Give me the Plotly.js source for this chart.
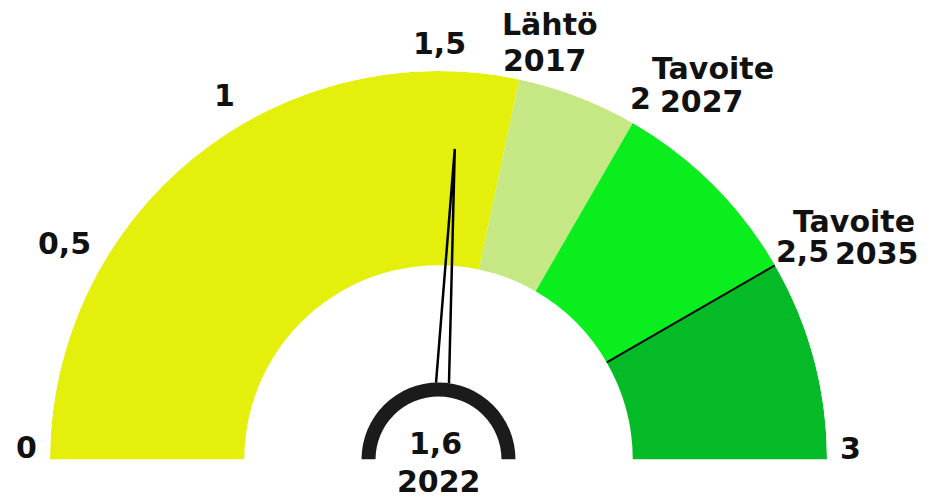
<!DOCTYPE html>
<html><head><meta charset="utf-8">
<script src="https://cdn.plot.ly/plotly-3.0.1.min.js"></script>
<style>html,body{margin:0;padding:0;background:#fff}#chart{width:931px;height:501px}</style>
</head><body><div id="chart"></div>
<script>
// ---- data ----
const gaugeMin = 0, gaugeMax = 3;
const stepStarts = [0, 1.7, 2.0, 2.5];
const stepEnds = [1.7, 2.0, 2.5, 3];
const stepColors = ['#e4ef0c', '#c6e884', '#0aee1e', '#04ba26'];
const tickValues = [0, 0.5, 1, 1.5, 2, 2.5, 3];
const tickLabels = ['0', '0,5', '1', '1,5', '2', '2,5', '3'];
const thresholdValue = 2.5;
const needleValue = 1.55;
const currentValueLabel = '1,6';
const currentYearLabel = '2022';
const markerTitles = ['Lähtö', 'Tavoite', 'Tavoite'];
const markerYears = ['2017', '2027', '2035'];

// ---- geometry / scales ----
const W = 931, H = 501;
const CX = 438.5, CY = 459.5, R = 388.5;       // gauge centre and outer radius (px)
const deg = v => (v - gaugeMin) / (gaugeMax - gaugeMin) * 180;
const rPx = px => 2 * px / R - 1;              // px from centre -> radial units ([-1,1])

const font = {family: 'DejaVu Sans', size: 30, color: '#111', weight: 'bold'};

const traces = [];
traces.push({
  type: 'barpolar',
  r: stepStarts.map(() => 1),
  base: stepStarts.map(() => 0),
  theta: stepStarts.map((s, i) => (deg(s) + deg(stepEnds[i])) / 2),
  width: stepStarts.map((s, i) => deg(stepEnds[i]) - deg(s)),
  marker: {color: stepColors, line: {width: 0}},
  hoverinfo: 'skip'
});
traces.push({
  type: 'scatterpolar', mode: 'lines',
  r: [0, 1], theta: [deg(thresholdValue), deg(thresholdValue)],
  line: {color: '#000', width: 2}, hoverinfo: 'skip'
});
// hub ring
traces.push({
  type: 'barpolar',
  r: [rPx(77) - rPx(63)], base: [rPx(63)],
  theta: [deg((gaugeMin + gaugeMax) / 2)], width: [180],
  marker: {color: '#1b1b1b', line: {width: 0}},
  hoverinfo: 'skip'
});
// needle
const nd = deg(needleValue), half = Math.atan(6.5 / 77) * 180 / Math.PI;
traces.push({
  type: 'scatterpolar', mode: 'lines',
  r: [rPx(77), rPx(311), rPx(77)],
  theta: [nd - half, nd, nd + half],
  line: {color: '#000', width: 2.5}, hoverinfo: 'skip'
});

const px2x = x => x / W, px2y = y => 1 - y / H;
const ann = (text, x, y, xa) => ({text, x: px2x(x), y: px2y(y), xref: 'paper', yref: 'paper',
  xanchor: xa || 'left', yanchor: 'middle', showarrow: false, font});

// tick labels placed around the rim at each tick's angle (with small hand nudges)
const labelRadius = 416;
const labelNudge = [[3.5, -11.5], [-13.5, -8.5], [-6, -3.5], [1, 0], [-6.5, -0.5], [4, -0.5], [-4.5, -11.5]];
const tickAnnotations = tickValues.map((v, i) => {
  const a = Math.PI - deg(v) * Math.PI / 180;
  return ann(tickLabels[i], CX + Math.cos(a) * labelRadius + labelNudge[i][0],
    CY - Math.sin(a) * labelRadius + labelNudge[i][1], 'center');
});

const annotations = tickAnnotations.concat([
  ann(markerTitles[0], 500, 25), ann(markerYears[0], 501, 60),
  ann(markerTitles[1], 650, 68), ann(markerYears[1], 658, 101),
  ann(markerTitles[2], 791, 221), ann(markerYears[2], 833, 254),
  ann(currentValueLabel, 435, 443, 'center'), ann(currentYearLabel, 439, 481, 'center')
]);

const layout = {
  width: W, height: H, margin: {l: 0, r: 0, t: 0, b: 0},
  paper_bgcolor: '#fff', showlegend: false,
  polar: {
    domain: {x: [(CX - R) / W, (CX + R) / W], y: [1 - CY / H, 1 - (CY - R) / H]},
    sector: [0, 180], hole: 0, bgcolor: 'rgba(0,0,0,0)', barmode: 'overlay',
    radialaxis: {range: [-1, 1], visible: false},
    angularaxis: {rotation: 180, direction: 'clockwise', thetaunit: 'degrees',
      tickmode: 'array', tickvals: tickValues.map(deg), ticktext: tickLabels,
      showticklabels: false, showgrid: false, showline: false, ticks: ''}
  },
  annotations
};
Plotly.newPlot('chart', traces, layout, {displayModeBar: false, staticPlot: true});
</script></body></html>
